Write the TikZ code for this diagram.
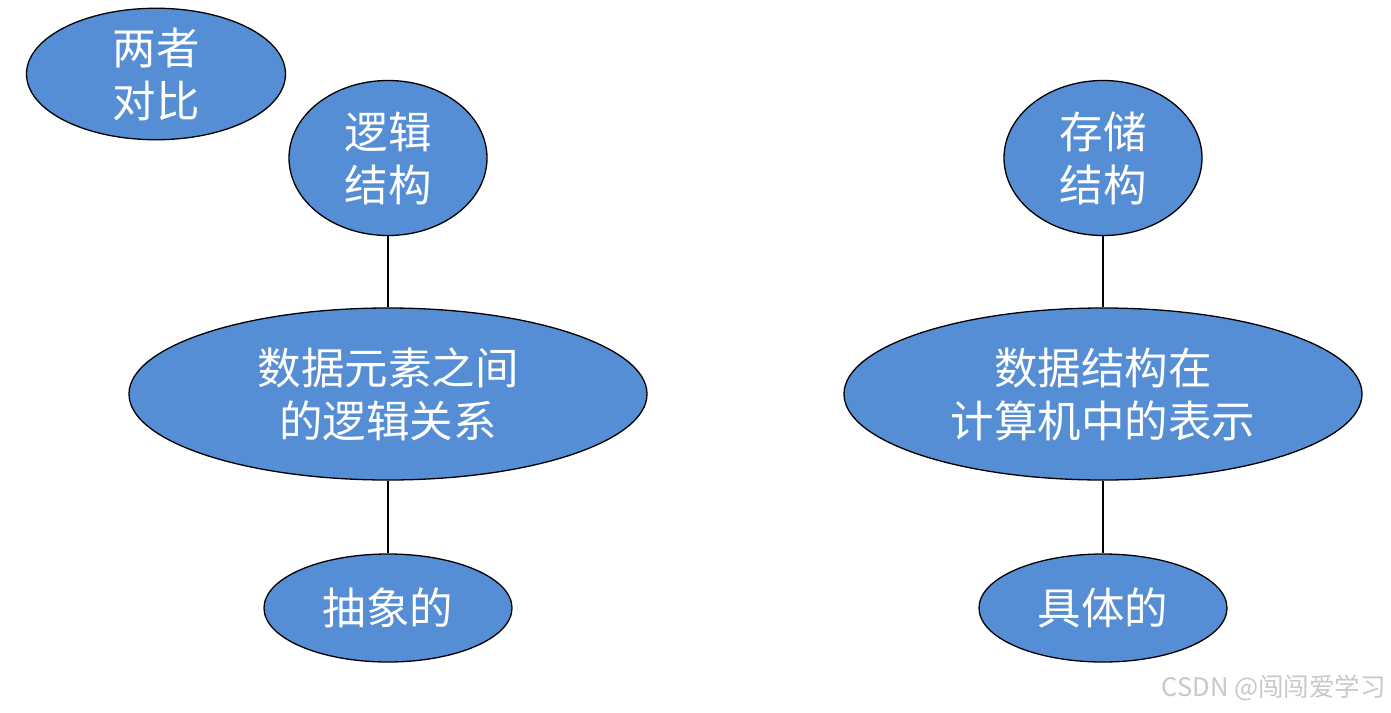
\documentclass[tikz,border=0pt]{standalone}
\usepackage{fontspec}
\setmainfont{Noto Sans CJK SC}
\newfontfamily\cjk{Noto Sans CJK SC}
\usetikzlibrary{shapes.geometric}
\definecolor{nodeblue}{RGB}{85,142,213}
\definecolor{wmgray}{RGB}{200,200,200}
\tikzset{
  ell/.style={ellipse, draw=black, line width=1.3pt, fill=nodeblue, inner sep=0pt,
    text=white, align=center, font=\cjk\fontsize{43.5}{53}\selectfont},
  conn/.style={draw=black, line width=2pt}
}
\begin{document}
\begin{tikzpicture}[x=1pt,y=-1pt]
\useasboundingbox (0,0) rectangle (1391,712);
\node[ell, minimum width=259pt, minimum height=122pt] (cmp) at (156,74) {两者\\对比};
\node[ell, minimum width=198pt, minimum height=155pt] (lj) at (388,158) {逻辑\\结构};
\node[ell, minimum width=518pt, minimum height=172pt] (ljd) at (388,394) {数据元素之间\\的逻辑关系};
\node[ell, minimum width=248pt, minimum height=108pt] (cx) at (388,608) {抽象的};
\node[ell, minimum width=198pt, minimum height=155pt] (cc) at (1103,158) {存储\\结构};
\node[ell, minimum width=518pt, minimum height=172pt] (ccd) at (1103,394) {数据结构在\\计算机中的表示};
\node[ell, minimum width=248pt, minimum height=108pt] (jt) at (1103,608) {具体的};
\draw[conn] (lj.south) -- (ljd.north);
\draw[conn] (ljd.south) -- (cx.north);
\draw[conn] (cc.south) -- (ccd.north);
\draw[conn] (ccd.south) -- (jt.north);
\node[anchor=east, text=wmgray, font=\cjk\fontsize{25.5}{28}\selectfont, inner sep=0pt] (wm) at (1386,688) {CSDN @闯闯爱学习};
\end{tikzpicture}
\end{document}
